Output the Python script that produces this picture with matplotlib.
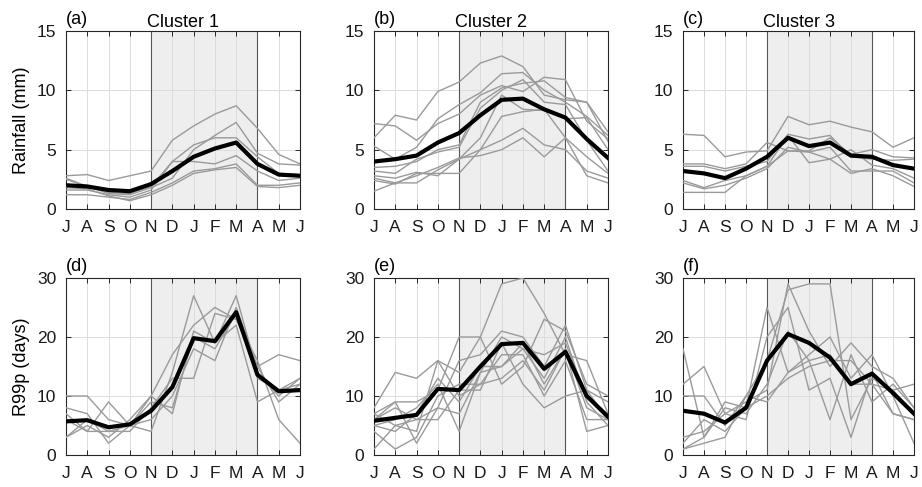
import numpy as np
import matplotlib
matplotlib.use("Agg")
import matplotlib.pyplot as plt

plt.rcParams["font.family"] = ["Liberation Sans", "DejaVu Sans"]

months = ["J", "A", "S", "O", "N", "D", "J", "F", "M", "A", "M", "J"]
titles = ["Cluster 1", "Cluster 2", "Cluster 3"]
letters = ["(a)", "(b)", "(c)", "(d)", "(e)", "(f)"]

# rainfall (mm), cluster members + cluster mean
rain_c1 = [
    [2.8, 2.9, 2.4, 2.8, 3.2, 5.8, 7.0, 8.0, 8.7, 6.8, 4.6, 3.8],
    [2.5, 1.9, 1.3, 1.2, 1.8, 2.6, 5.0, 6.2, 7.3, 4.7, 3.8, 3.7],
    [2.6, 1.9, 1.4, 1.3, 1.9, 4.0, 5.4, 6.0, 6.0, 4.4, 3.0, 2.9],
    [1.6, 1.6, 1.2, 1.0, 1.6, 4.0, 4.0, 3.8, 4.5, 3.2, 2.4, 2.6],
    [1.2, 1.2, 1.0, 0.8, 1.4, 2.2, 3.2, 3.4, 3.8, 2.0, 2.0, 2.2],
    [1.8, 1.7, 1.1, 0.7, 1.2, 2.0, 3.0, 3.3, 3.5, 1.9, 1.8, 2.0],
]
rain_c1_mean = [2.0, 1.9, 1.6, 1.5, 2.1, 3.2, 4.4, 5.1, 5.6, 3.8, 2.9, 2.8]

rain_c2 = [
    [6.0, 7.9, 7.5, 9.9, 10.7, 12.3, 12.9, 12.0, 9.6, 9.2, 9.0, 6.5],
    [7.2, 7.0, 5.8, 7.2, 8.0, 9.6, 10.4, 9.9, 11.1, 10.9, 7.4, 5.9],
    [5.3, 4.2, 5.2, 7.6, 8.8, 9.8, 11.4, 11.5, 10.0, 9.0, 7.8, 6.2],
    [3.5, 3.6, 4.0, 5.0, 5.4, 9.0, 10.2, 10.6, 10.8, 9.4, 9.0, 5.7],
    [3.2, 3.0, 4.2, 4.8, 5.2, 8.5, 10.0, 10.9, 9.0, 8.8, 5.8, 3.2],
    [2.8, 2.6, 3.1, 2.8, 4.2, 6.0, 9.6, 8.4, 8.3, 7.6, 7.7, 5.0],
    [2.6, 2.2, 2.2, 3.3, 4.2, 5.0, 7.8, 8.2, 8.4, 6.0, 4.4, 3.0],
    [2.4, 2.1, 3.0, 3.0, 3.0, 5.0, 5.8, 6.8, 5.4, 5.0, 3.2, 2.6],
    [1.5, 2.2, 2.8, 3.5, 4.3, 4.5, 5.0, 6.0, 4.4, 6.0, 2.8, 2.2],
]
rain_c2_mean = [4.0, 4.2, 4.5, 5.6, 6.4, 7.9, 9.2, 9.3, 8.4, 7.7, 5.9, 4.3]

rain_c3 = [
    [6.3, 6.2, 4.4, 4.8, 4.9, 7.8, 7.1, 7.4, 6.9, 6.5, 5.2, 6.0],
    [3.8, 3.8, 3.4, 3.8, 5.6, 4.9, 4.9, 6.0, 4.6, 5.0, 4.4, 4.3],
    [3.6, 3.6, 3.2, 3.6, 4.0, 6.3, 5.9, 6.2, 4.4, 4.2, 4.1, 4.2],
    [2.4, 1.8, 2.4, 2.8, 3.6, 6.2, 3.9, 4.2, 5.0, 3.7, 3.4, 2.6],
    [2.2, 1.7, 2.0, 2.6, 3.4, 5.2, 4.8, 5.2, 3.2, 3.2, 3.2, 2.2],
    [1.4, 1.4, 1.4, 2.8, 3.6, 4.9, 4.8, 4.2, 3.0, 3.4, 2.8, 1.9],
]
rain_c3_mean = [3.2, 3.0, 2.6, 3.4, 4.4, 6.0, 5.3, 5.6, 4.5, 4.4, 3.7, 3.4]

# R99p (days)
r99_c1 = [
    [10, 10, 6, 5, 4, 14, 27, 19, 27, 14, 10, 13],
    [8, 7, 2, 5, 10, 17, 22, 25, 23, 15, 17, 16],
    [7, 4, 9, 5, 6, 10, 18, 16, 25, 15, 9, 12],
    [3, 5, 3, 6, 10, 7, 21, 19, 22, 9, 11, 13],
    [3, 6, 4, 4, 8, 13, 13, 24, 23, 16, 6, 2],
    [6, 4, 4, 5, 9, 8, 20, 18, 24, 13, 11, 12],
]
r99_c1_mean = [5.7, 5.9, 4.7, 5.2, 7.5, 11.5, 19.8, 19.3, 24.2, 13.6, 10.8, 11.0]

r99_c2 = [
    [8, 14, 13, 16, 14, 20, 29, 30, 24, 17, 16, 7],
    [7, 9, 9, 11, 20, 20, 12, 15, 23, 21, 12, 10],
    [6, 9, 2, 8, 16, 17, 21, 20, 15, 22, 11, 6],
    [5, 6, 8, 12, 4, 14, 20, 18, 13, 20, 9, 5],
    [5, 4, 7, 13, 9, 15, 15, 19, 12, 18, 4, 5],
    [4, 1, 3, 10, 12, 12, 17, 17, 10, 16, 6, 6],
    [1, 5, 6, 6, 11, 11, 19, 12, 8, 10, 11, 9],
    [7, 5, 4, 16, 10, 12, 13, 16, 11, 18, 8, 6],
    [6, 8, 6, 8, 7, 14, 15, 18, 17, 19, 10, 6],
]
r99_c2_mean = [5.8, 6.3, 6.8, 11.2, 11.0, 15.0, 18.8, 19.0, 14.6, 17.5, 10.0, 6.5]

r99_c3 = [
    [18, 3, 9, 8, 25, 14, 17, 20, 13, 17, 10, 2],
    [12, 15, 7, 9, 11, 29, 21, 15, 19, 15, 13, 8],
    [10, 10, 5, 10, 16, 28, 29, 29, 6, 13, 11, 12],
    [3, 4, 7, 6, 20, 25, 11, 13, 3, 14, 7, 6],
    [1, 2, 3, 10, 9, 14, 16, 6, 17, 9, 12, 8],
    [2, 6, 4, 8, 10, 13, 15, 16, 16, 12, 7, 6],
    [1, 3, 8, 7, 12, 21, 16, 17, 12, 12, 11, 7],
]
r99_c3_mean = [7.5, 7.0, 5.5, 8.0, 16.0, 20.5, 19.0, 16.5, 12.0, 13.8, 10.5, 7.0]

members = [rain_c1, rain_c2, rain_c3, r99_c1, r99_c2, r99_c3]
means = [rain_c1_mean, rain_c2_mean, rain_c3_mean, r99_c1_mean, r99_c2_mean, r99_c3_mean]

W, H = 922, 487
fig = plt.figure(figsize=(W / 100, H / 100), dpi=100)

lefts = [66, 374, 683]
widths = [234, 234, 231]
rows = [(31, 209, 15, [0, 5, 10, 15], "Rainfall (mm)"),
        (278, 455, 30, [0, 10, 20, 30], "R99p (days)")]

x = np.arange(12)
frame = "#262626"
for r, (top, bot, ymax, yt, ylab) in enumerate(rows):
    for c in range(3):
        i = r * 3 + c
        ax = fig.add_axes([lefts[c] / W, 1 - bot / H, widths[c] / W, (bot - top) / H])
        ax.axvspan(4, 9, color="#eeeeee", zorder=0, lw=0)
        for xv in x:
            ax.axvline(xv, color="#dcdcdc", lw=0.7, zorder=1)
        for yv in yt[1:-1]:
            ax.axhline(yv, color="#dcdcdc", lw=0.7, zorder=1)
        ax.axvline(4, color="#555555", lw=0.8, zorder=2)
        ax.axvline(9, color="#555555", lw=0.8, zorder=2)
        for m in members[i]:
            ax.plot(x, m, color="#9a9a9a", lw=1.0, zorder=3)
        ax.plot(x, means[i], color="black", lw=3.0, zorder=4)
        ax.set_xlim(0, 11)
        ax.set_ylim(0, ymax)
        ax.set_xticks(x)
        ax.set_xticklabels(months)
        ax.set_yticks(yt)
        ax.tick_params(direction="in", top=True, right=True, length=3.5,
                       width=0.7, color=frame, labelsize=12.5, labelcolor="#1a1a1a")
        ax.tick_params(axis="x", pad=8)
        ax.tick_params(axis="y", pad=7)
        for s in ax.spines.values():
            s.set_color(frame)
            s.set_linewidth(0.8)
        if c == 0:
            ax.set_ylabel(ylab, fontsize=13, labelpad=5)
        if r == 0:
            ax.set_title(titles[c], fontsize=13, pad=3)
        ax.text(0, 1.015, letters[i], transform=ax.transAxes, ha="left",
                va="bottom", fontsize=13)

fig.savefig("out.png", dpi=100)
